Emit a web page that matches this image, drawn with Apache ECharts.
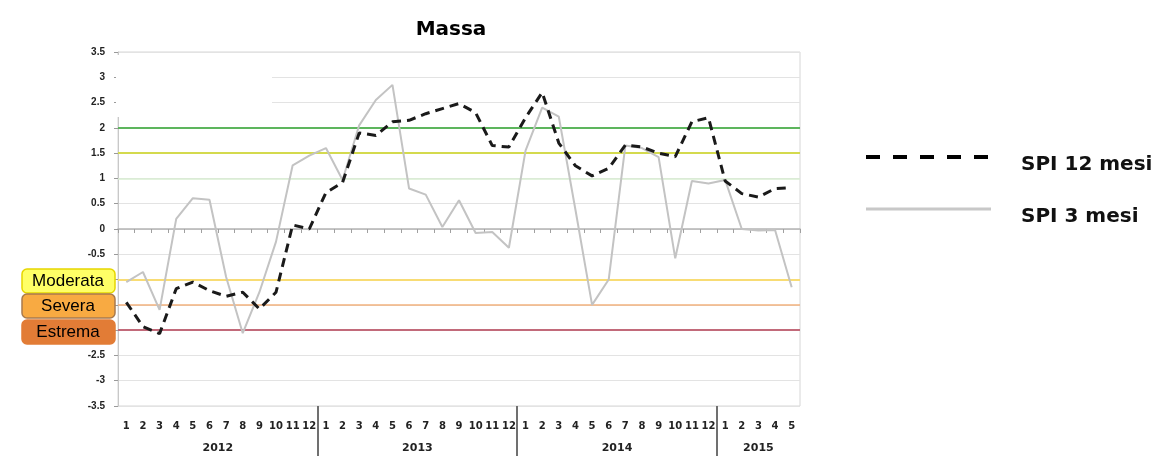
<!DOCTYPE html>
<html>
<head>
<meta charset="utf-8">
<script src="https://cdn.jsdelivr.net/npm/echarts@6/dist/echarts.min.js"></script>
<style>
html, body { margin: 0; padding: 0; background: #fff; }
#chart { width: 1158px; height: 456px; }
</style>
</head>
<body>
<div id="chart"></div>
<script>
// ---- data ----
const months = ['1','2','3','4','5','6','7','8','9','10','11','12',
                '1','2','3','4','5','6','7','8','9','10','11','12',
                '1','2','3','4','5','6','7','8','9','10','11','12',
                '1','2','3','4','5'];
const years = ['2012', '2013', '2014', '2015'];
const yearBounds = [12, 24, 36];
const yearCenters = [6, 18, 30, 38.5];
const spi12 = [-1.45, -1.93, -2.07, -1.18, -1.05, -1.22, -1.33, -1.25, -1.58, -1.25, 0.08, 0.0,
               0.72, 0.92, 1.9, 1.85, 2.12, 2.15, 2.28, 2.38, 2.48, 2.3, 1.65, 1.62,
               2.2, 2.7, 1.7, 1.25, 1.05, 1.2, 1.66, 1.62, 1.5, 1.43, 2.12, 2.2,
               0.95, 0.7, 0.63, 0.8, 0.82];
const spi3 = [-1.05, -0.85, -1.6, 0.2, 0.61, 0.58, -0.95, -2.06, -1.25, -0.25, 1.26, 1.45,
              1.6, 0.97, 2.05, 2.55, 2.85, 0.8, 0.68, 0.04, 0.57, -0.08, -0.06, -0.37,
              1.55, 2.4, 2.22, 0.38, -1.5, -1.0, 1.65, 1.6, 1.42, -0.58, 0.95, 0.9,
              0.97, 0.0, -0.03, -0.02, -1.15];
const thresholds = [2, 1.5, 1, -1, -1.5, -2];
const classLabels = ['Moderata', 'Severa', 'Estrema'];
const seriesNames = ['SPI 12 mesi', 'SPI 3 mesi'];

// ---- styles ----
const thresholdColors = ['#5db55d', '#d4da4e', '#d8eed2', '#f8dc74', '#f2b27e', '#c26a7a'];
const thresholdWidths = [2, 2, 1.5, 2, 1.5, 2];
const classFills = ['#ffff66', '#f8aa42', '#e27c36'];
const classStrokes = ['#e6d600', '#a97a4c', '#e27c36'];
const classTops = [269, 294, 320];

const chart = echarts.init(document.getElementById('chart'));

const graphics = [
  { type: 'rect', z: 100, shape: { x: 116, y: 55, width: 156, height: 62 }, style: { fill: '#ffffff' } }
];
classLabels.forEach((lab, i) => {
  graphics.push({
    type: 'rect', z: 100,
    shape: { x: 22, y: classTops[i], width: 93, height: 24, r: 5 },
    style: { fill: classFills[i], stroke: classStrokes[i], lineWidth: 1.5 }
  });
  graphics.push({
    type: 'text', z: 101, x: 68, y: classTops[i] + 12,
    style: { text: lab, fill: '#000', font: '17px "Liberation Sans", Arial, sans-serif',
             textAlign: 'center', textVerticalAlign: 'middle' }
  });
});

const option = {
  animation: false,
  backgroundColor: '#fff',
  title: {
    text: 'Massa', left: 446, top: 15, textAlign: 'center',
    textStyle: { fontFamily: 'DejaVu Sans', fontWeight: 'bold', fontSize: 20, color: '#000' }
  },
  grid: { left: 118, right: 358, top: 52, bottom: 50, show: true, borderColor: '#d6d6d6', borderWidth: 1 },
  legend: {
    orient: 'vertical', left: 864, top: 139, padding: 0,
    itemWidth: 125, itemHeight: 14, itemGap: 16,
    itemStyle: { opacity: 0 },
    data: [
      { name: seriesNames[0], lineStyle: { color: '#000', type: [14, 13], width: 4 } },
      { name: seriesNames[1], lineStyle: { color: '#c8c8c8', type: 'solid', width: 3 } }
    ],
    formatter: '{t|{name}}',
    textStyle: {
      rich: {
        t: { fontFamily: 'DejaVu Sans', fontWeight: 'bold', fontSize: 20, color: '#111',
             lineHeight: 20, padding: [16, 0, 0, 25] }
      }
    }
  },
  xAxis: [
    {
      type: 'category', data: months, position: 'bottom', boundaryGap: true,
      axisLine: { show: false, onZero: false }, axisTick: { show: false },
      axisLabel: { interval: 0, margin: 15, fontSize: 10, fontWeight: 'bold', color: '#222',
                   fontFamily: 'DejaVu Sans' },
      splitLine: { show: false }
    },
    {
      type: 'category', data: months, position: 'bottom', boundaryGap: true,
      axisLine: { show: true, onZero: true, lineStyle: { color: '#b4b4b4', width: 1.5 } },
      axisTick: { show: true, interval: 0, length: 4, lineStyle: { color: '#a0a0a0' } },
      axisLabel: { show: false }, splitLine: { show: false }
    },
    {
      type: 'value', min: 0, max: 41, position: 'bottom',
      axisLine: { show: false, onZero: false },
      axisTick: { show: true, customValues: yearBounds, length: 50, lineStyle: { color: '#707070', width: 2 } },
      axisLabel: { customValues: yearCenters, margin: 37, fontSize: 11, fontWeight: 'bold', color: '#222',
                   fontFamily: 'DejaVu Sans',
                   formatter: v => years[yearCenters.indexOf(v)] || '' },
      splitLine: { show: false }
    }
  ],
  yAxis: {
    type: 'value', min: -3.5, max: 3.5, interval: 0.5,
    axisLine: { show: true, lineStyle: { color: '#c8c8c8' } },
    axisTick: { show: true, length: 4, lineStyle: { color: '#9a9a9a' } },
    axisLabel: { margin: 13, fontSize: 10, fontWeight: 'bold', color: '#222',
                 fontFamily: '"Liberation Sans", Arial, sans-serif' },
    splitLine: { show: true, lineStyle: { color: '#e3e3e3', width: 1 } }
  },
  series: [
    {
      name: 'soglie', type: 'line', data: [], xAxisIndex: 0, silent: true, z: 1,
      markLine: {
        silent: true, symbol: ['none', 'none'], label: { show: false }, z: 1,
        data: thresholds.map((t, i) => ({
          yAxis: t, lineStyle: { color: thresholdColors[i], width: thresholdWidths[i], type: 'solid' }
        }))
      }
    },
    {
      name: seriesNames[1], type: 'line', data: spi3, xAxisIndex: 0, symbol: 'none', z: 3,
      lineStyle: { color: '#c3c3c3', width: 2 }, itemStyle: { color: '#c3c3c3' }
    },
    {
      name: seriesNames[0], type: 'line', data: spi12, xAxisIndex: 0, symbol: 'none', z: 4,
      lineStyle: { color: '#1a1a1a', width: 3, type: [9, 6] }, itemStyle: { color: '#1a1a1a' }
    }
  ],
  graphic: graphics
};
chart.setOption(option);
</script>
</body>
</html>
